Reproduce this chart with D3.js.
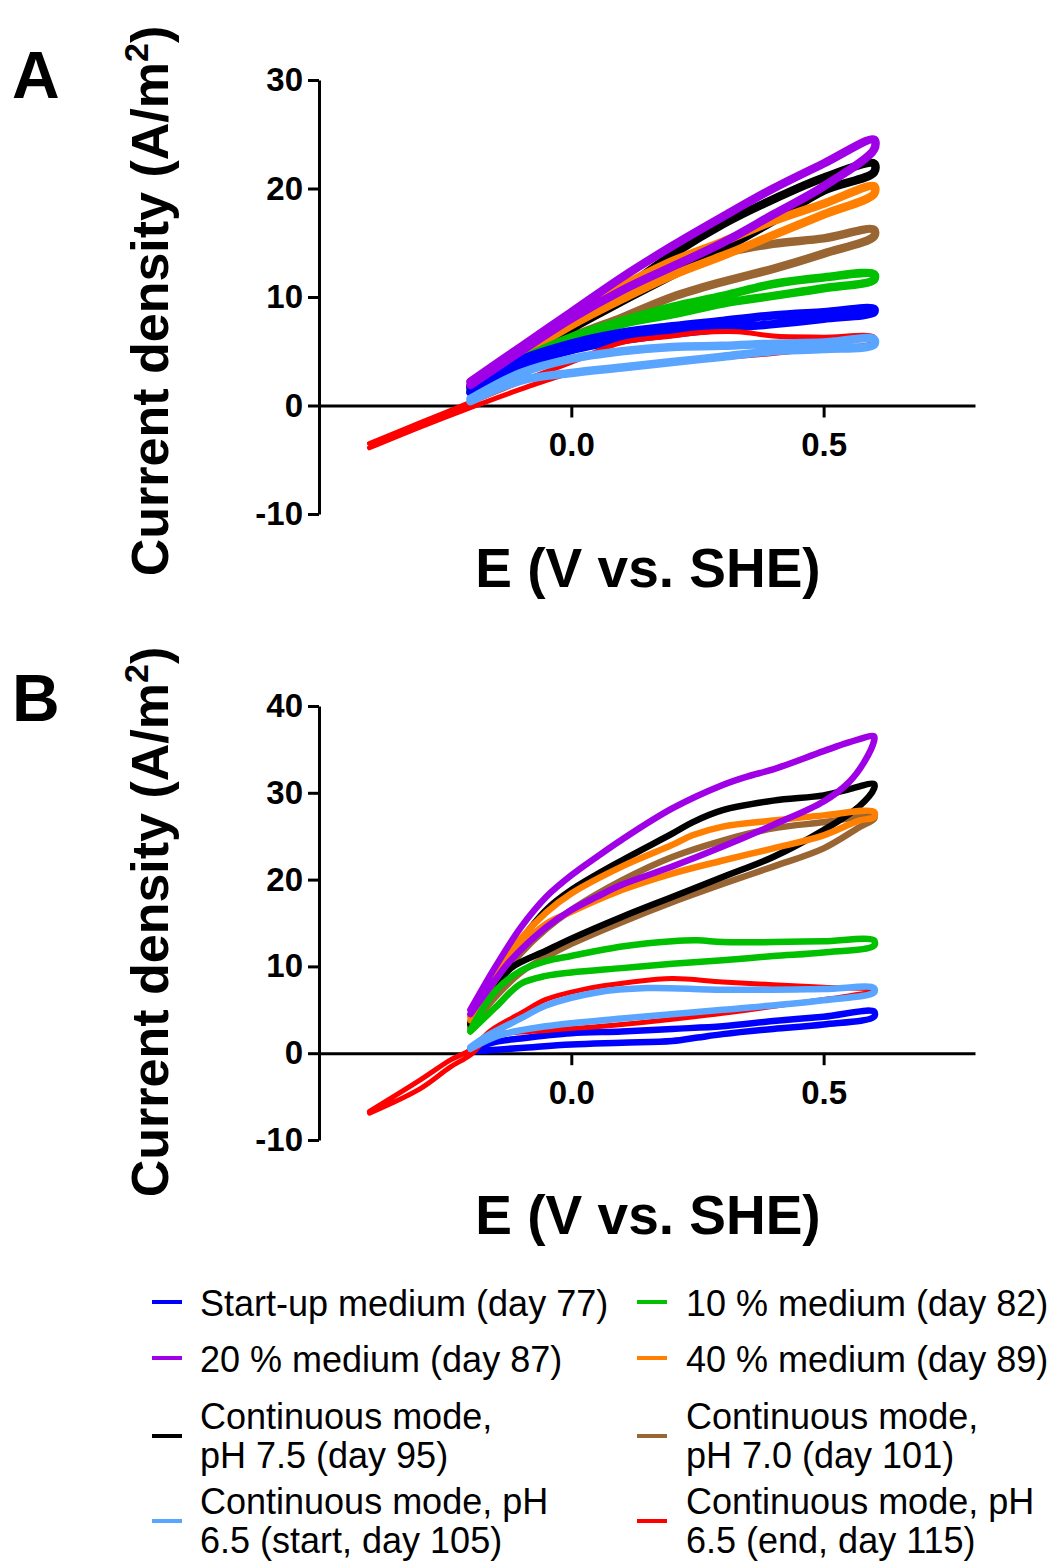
<!DOCTYPE html>
<html>
<head>
<meta charset="utf-8">
<script src="https://cdn.jsdelivr.net/npm/d3@7/dist/d3.min.js"></script>
<style>
  html, body { margin: 0; padding: 0; background: #ffffff; }
  svg { display: block; }
  text { font-family: "Liberation Sans", Arial, Helvetica, sans-serif; }
</style>
</head>
<body>
<svg id="chart" width="1058" height="1562"></svg>
<script>
// ---------------------------------------------------------------
// Cyclic voltammograms: each loop is [E (V vs. SHE), j (A/m²)],
// forward scan (lower branch) followed by the reverse scan.
// ---------------------------------------------------------------

const seriesLabels = [
  ["Start-up medium (day 77)"],
  ["10 % medium (day 82)"],
  ["20 % medium (day 87)"],
  ["40 % medium (day 89)"],
  ["Continuous mode,", "pH 7.5 (day 95)"],
  ["Continuous mode,", "pH 7.0 (day 101)"],
  ["Continuous mode, pH", "6.5 (start, day 105)"],
  ["Continuous mode, pH", "6.5 (end, day 115)"]
];
const seriesColors = ["#0000ff", "#00c000", "#a000e6", "#ff8000",
                      "#000000", "#996633", "#5aa5ff", "#ff0000"];

// Panel A
const a_startup = [[-0.2,1.2],[-0.1,3.6],[0,5.1],[0.1,6.0],[0.2,6.6],[0.3,7.1],[0.4,7.5],[0.5,8.0],[0.6,8.6],
                   [0.6,8.9],[0.5,8.6],[0.4,8.3],[0.3,7.8],[0.2,7.3],[0.1,6.7],[0,5.7],[-0.1,4.2],[-0.2,1.7]];
const a_med10 = [[-0.2,1.3],[-0.1,3.8],[0,6.0],[0.1,7.5],[0.2,8.4],[0.3,9.4],[0.4,10.1],[0.5,10.8],[0.6,11.6],
                 [0.6,12.1],[0.5,11.8],[0.4,11.2],[0.3,10.1],[0.2,9.1],[0.1,7.8],[0,6.3],[-0.1,4.2],[-0.2,1.5]];
const a_med20 = [[-0.2,1.9],[-0.1,5.0],[0,8.0],[0.1,10.6],[0.2,12.8],[0.3,15.0],[0.4,17.6],[0.5,20.2],[0.6,23.6],
                 [0.6,24.5],[0.5,22.3],[0.4,20.0],[0.3,17.4],[0.2,14.7],[0.1,11.8],[0,8.6],[-0.1,5.4],[-0.2,2.2]];
const a_med40 = [[-0.2,1.4],[-0.1,4.6],[0,7.4],[0.1,9.8],[0.2,12.0],[0.3,13.8],[0.4,15.7],[0.5,17.6],[0.6,19.5],
                 [0.6,20.2],[0.5,18.6],[0.4,17.0],[0.3,15.1],[0.2,13.3],[0.1,11.0],[0,8.4],[-0.1,5.2],[-0.2,1.6]];
const a_ph75 = [[-0.2,1.5],[-0.1,4.5],[0,7.1],[0.1,9.6],[0.2,12.0],[0.3,14.4],[0.4,17.0],[0.5,19.8],[0.6,21.5],
                [0.6,22.3],[0.5,21.0],[0.4,19.0],[0.3,16.7],[0.2,13.9],[0.1,10.6],[0,7.7],[-0.1,4.8],[-0.2,1.7]];
const a_ph70 = [[-0.2,1.3],[-0.1,3.8],[0,6.3],[0.1,8.1],[0.2,10.0],[0.3,11.4],[0.4,12.6],[0.5,14.0],[0.6,15.6],
                [0.6,16.2],[0.5,15.4],[0.4,14.9],[0.3,14.0],[0.2,12.4],[0.1,9.6],[0,7.1],[-0.1,4.4],[-0.2,1.5]];
const a_ph65start = [[-0.2,0.4],[-0.1,2.3],[0,3.0],[0.1,3.5],[0.2,4.0],[0.3,4.5],[0.4,5.0],[0.5,5.2],[0.6,5.6],
                     [0.6,6.1],[0.5,5.8],[0.4,5.7],[0.3,5.5],[0.2,5.4],[0.1,5.0],[0,4.3],[-0.1,3.0],[-0.2,0.6]];
const a_ph65end = [[-0.4,-3.9],[-0.3,-2.0],[-0.2,-0.2],[-0.1,1.5],[0,3.0],[0.1,3.6],[0.2,4.0],[0.3,4.4],[0.4,4.8],[0.5,5.3],[0.6,5.8],
                   [0.6,6.3],[0.5,6.3],[0.4,6.4],[0.33,6.8],[0.25,6.7],[0.2,6.4],[0.1,5.8],[0,4.0],[-0.1,2.2],[-0.2,0.3],[-0.3,-1.6],[-0.4,-3.5]];

// Panel B
const b_startup = [[-0.2,0.2],[-0.1,0.6],[0,1.0],[0.1,1.2],[0.2,1.4],[0.25,1.8],[0.3,2.2],[0.4,2.8],[0.5,3.3],[0.6,4.2],
                   [0.6,4.8],[0.5,4.2],[0.4,3.7],[0.3,3.1],[0.2,2.8],[0.1,2.5],[0,2.3],[-0.1,1.7],[-0.15,1.3],[-0.2,0.4]];
const b_med10 = [[-0.2,2.5],[-0.15,5.3],[-0.1,8.0],[-0.05,8.9],[0,9.3],[0.1,9.8],[0.2,10.3],[0.3,10.7],[0.4,11.2],[0.5,11.6],[0.6,12.4],
                 [0.6,13.0],[0.5,12.9],[0.4,12.8],[0.3,12.8],[0.25,13.0],[0.2,12.9],[0.1,12.3],[0,11.2],[-0.05,10.6],[-0.1,9.5],[-0.15,7.2],[-0.2,2.7]];
const b_med20 = [[-0.2,4.5],[-0.15,8.5],[-0.12,10.7],[-0.05,14.5],[0,16.5],[0.05,18.0],[0.1,19.4],[0.2,21.5],[0.3,23.8],[0.4,26.3],[0.5,29.0],[0.55,31.2],[0.58,33.5],[0.6,36.0],
                 [0.6,36.5],[0.55,35.8],[0.5,34.8],[0.4,32.7],[0.35,31.9],[0.3,30.9],[0.2,28.2],[0.1,24.6],[0.05,22.6],[0,20.5],[-0.05,18.0],[-0.1,14.5],[-0.15,10.0],[-0.2,5.0]];
const b_med40 = [[-0.2,3.8],[-0.15,8.5],[-0.1,12.3],[-0.05,14.9],[0,16.3],[0.1,18.8],[0.2,20.7],[0.3,22.2],[0.4,23.6],[0.5,25.1],[0.57,26.8],[0.6,27.2],
                 [0.6,27.8],[0.5,27.4],[0.4,26.8],[0.3,26.1],[0.24,25.1],[0.2,24.0],[0.1,21.5],[0,18.4],[-0.05,16.2],[-0.1,13.2],[-0.15,9.0],[-0.2,4.2]];
const b_ph75 = [[-0.2,3.3],[-0.15,7.5],[-0.12,9.8],[-0.05,11.8],[0,13.2],[0.1,15.7],[0.2,18.0],[0.3,20.3],[0.4,22.6],[0.5,25.7],[0.57,28.4],[0.6,30.5],
                [0.6,31.0],[0.55,30.4],[0.5,29.7],[0.4,29.1],[0.3,28.0],[0.24,26.6],[0.2,25.3],[0.1,22.2],[0,18.8],[-0.05,16.5],[-0.1,13.0],[-0.15,8.8],[-0.2,3.6]];
const b_ph70 = [[-0.2,3.0],[-0.15,6.5],[-0.1,9.3],[-0.05,11.1],[0,12.6],[0.1,15.1],[0.2,17.4],[0.3,19.5],[0.4,21.5],[0.5,23.6],[0.57,26.0],[0.6,27.0],
                [0.6,27.3],[0.5,26.6],[0.4,25.9],[0.3,24.5],[0.2,22.6],[0.1,19.9],[0,16.5],[-0.05,14.3],[-0.1,11.5],[-0.15,7.8],[-0.2,3.4]];
const b_ph65start = [[-0.2,0.5],[-0.14,2.1],[-0.05,3.1],[0.1,4.0],[0.3,5.0],[0.5,6.1],[0.6,7.0],
                     [0.6,7.5],[0.5,7.4],[0.3,7.3],[0.15,7.5],[0.05,7.0],[-0.05,5.5],[-0.1,4.0],[-0.17,1.9],[-0.2,0.7]];
const b_ph65end = [[-0.4,-6.9],[-0.3,-4.1],[-0.24,-1.6],[-0.2,-0.2],[-0.16,1.9],[-0.05,2.6],[0.1,3.3],[0.3,4.6],[0.45,5.8],[0.55,6.6],[0.6,7.2],
                   [0.6,7.3],[0.5,7.6],[0.4,7.9],[0.3,8.2],[0.2,8.6],[0.12,8.2],[0.02,7.3],[-0.05,6.2],[-0.1,4.6],[-0.16,2.6],[-0.2,0.4],[-0.24,-0.8],[-0.3,-3.1],[-0.4,-6.7]];

const loopsA = [a_startup, a_med10, a_med20, a_med40, a_ph75, a_ph70, a_ph65start, a_ph65end];
const loopsB = [b_startup, b_med10, b_med20, b_med40, b_ph75, b_ph70, b_ph65start, b_ph65end];

const xTicks = [0, 0.5];
const yTicksA = [-10, 0, 10, 20, 30];
const yTicksB = [-10, 0, 10, 20, 30, 40];

// stacking order of the loops (back to front), by series index
const drawOrder = [5, 4, 3, 1, 0, 7, 6, 2];

const svg = d3.select("#chart");
svg.append("rect").attr("width", 1058).attr("height", 1562).attr("fill", "#fff");

function drawPanel(opts) {
  const { loops, yDomain, yTop, yBottom, yTicks, letter, letterY, titleY, yTitleCenter, lineWidth, redWidth } = opts;
  const x = d3.scaleLinear().domain([-0.5, 0.8]).range([319, 975]);
  const y = d3.scaleLinear().domain(yDomain).range([yBottom, yTop]);
  const g = svg.append("g");

  const line = d3.line()
    .x(d => x(d[0]))
    .y(d => y(d[1]))
    .curve(d3.curveCatmullRom.alpha(0.5));

  // axes
  const yAxis = d3.axisLeft(y).tickValues(yTicks).tickSize(11).tickPadding(5)
    .tickSizeOuter(0).tickFormat(d => String(d));
  const ya = g.append("g").attr("transform", `translate(${x(-0.5)},0)`).call(yAxis);

  const xAxis = d3.axisBottom(x).tickValues(xTicks).tickSize(12).tickPadding(15)
    .tickSizeOuter(0).tickFormat(d3.format(".1f"));
  const xa = g.append("g").attr("transform", `translate(0,${y(0)})`).call(xAxis);

  [ya, xa].forEach(a => {
    a.select(".domain").attr("stroke", "#000").attr("stroke-width", 3);
    a.selectAll(".tick line").attr("stroke", "#000").attr("stroke-width", 3);
    a.selectAll(".tick text").attr("fill", "#000")
      .style("font-family", '"Liberation Sans", Arial, sans-serif')
      .style("font-size", "33px").style("font-weight", "bold");
  });

  // loops
  const lg = g.append("g");
  drawOrder.forEach(i => {
    lg.append("path")
      .attr("d", line(loops[i]))
      .attr("fill", "none")
      .attr("stroke", seriesColors[i])
      .attr("stroke-width", i === 7 ? redWidth : lineWidth)
      .attr("stroke-linejoin", "round")
      .attr("stroke-linecap", "round");
  });

  // panel letter
  g.append("text").attr("x", 12).attr("y", letterY)
    .style("font-size", "66px").style("font-weight", "bold").text(letter);

  // axis titles
  g.append("text").attr("x", 648).attr("y", titleY).attr("text-anchor", "middle")
    .style("font-size", "55px").style("font-weight", "bold").text("E (V vs. SHE)");

  const yt = g.append("text")
    .attr("transform", `translate(168,${yTitleCenter}) rotate(-90)`)
    .attr("text-anchor", "middle")
    .style("font-size", "52px").style("font-weight", "bold");
  yt.append("tspan").text("Current density (A/m");
  yt.append("tspan").attr("dy", -20).style("font-size", "34px").text("2");
  yt.append("tspan").attr("dy", 20).text(")");
}

drawPanel({ loops: loopsA, yDomain: [-10, 30], yTop: 80, yBottom: 514, yTicks: yTicksA,
            letter: "A", letterY: 98, titleY: 587, yTitleCenter: 301, lineWidth: 8.5, redWidth: 5 });
drawPanel({ loops: loopsB, yDomain: [-10, 40], yTop: 706, yBottom: 1140, yTicks: yTicksB,
            letter: "B", letterY: 721, titleY: 1234, yTitleCenter: 922, lineWidth: 6.5, redWidth: 5 });

// legend
const legendRows = [
  { baselines: [1316], swatchY: 1302 },
  { baselines: [1372], swatchY: 1358 },
  { baselines: [1429, 1468], swatchY: 1436 },
  { baselines: [1514, 1553], swatchY: 1521 }
];
const legendCols = [{ x1: 152, x2: 182, tx: 200 }, { x1: 637, x2: 667, tx: 686 }];
const leg = svg.append("g");
seriesLabels.forEach((lines, i) => {
  const row = legendRows[Math.floor(i / 2)];
  const col = legendCols[i % 2];
  leg.append("line").attr("x1", col.x1).attr("x2", col.x2)
    .attr("y1", row.swatchY).attr("y2", row.swatchY)
    .attr("stroke", seriesColors[i]).attr("stroke-width", 4);
  lines.forEach((t, k) => {
    leg.append("text").attr("x", col.tx).attr("y", row.baselines[k])
      .style("font-size", "36px").attr("fill", "#000").text(t);
  });
});
</script>
</body>
</html>
